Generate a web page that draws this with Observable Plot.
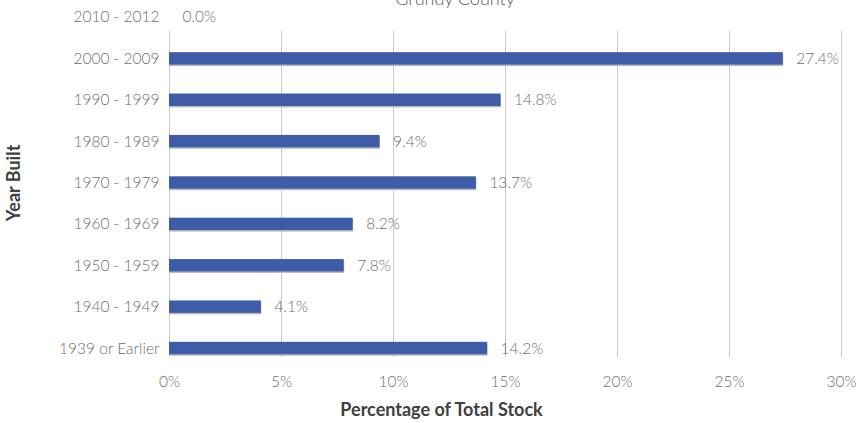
<!DOCTYPE html>
<html>
<head>
<meta charset="utf-8">
<script src="https://cdn.jsdelivr.net/npm/d3@7"></script>
<script src="https://cdn.jsdelivr.net/npm/@observablehq/plot@0.6"></script>
<style>
  html, body { margin: 0; padding: 0; background: #fff; overflow: hidden; }
  #wrap { position: relative; width: 859px; height: 423px; overflow: hidden; font-family: Lato, "Open Sans", sans-serif; }
  #title { position: absolute; left: 0; width: 910px; top: -11px; text-align: center; font-size: 18px; line-height: 18px; color: #595959; font-weight: 300; }
  #chart { position: absolute; left: 0; top: 0; }
</style>
</head>
<body>
<div id="wrap">
  <div id="chart"></div>
  <div id="title">Grundy County</div>
</div>
<script>
const categories = ["2010 - 2012", "2000 - 2009", "1990 - 1999", "1980 - 1989", "1970 - 1979", "1960 - 1969", "1950 - 1959", "1940 - 1949", "1939 or Earlier"];
const values = [0.0, 27.4, 14.8, 9.4, 13.7, 8.2, 7.8, 4.1, 14.2];
const xTicks = [0, 5, 10, 15, 20, 25, 30];

const data = categories.map((c, i) => ({category: c, value: values[i]}));

const plot = Plot.plot({
  width: 859,
  height: 423,
  marginLeft: 169,
  marginRight: 18,
  marginTop: 0,
  marginBottom: 58,
  style: {fontFamily: "Lato, 'Open Sans', sans-serif", fontSize: "15px", color: "#6e6e6e", background: "transparent"},
  x: {domain: [0, 30], ticks: xTicks, label: null},
  y: {domain: categories, paddingInner: 0.7, paddingOuter: 0.26, round: false, label: null},
  marks: [
    Plot.ruleX(xTicks, {x: d => d, stroke: "#c8c8c8", strokeWidth: 1, insetTop: 31, insetBottom: 8}),
    Plot.barX(data, {y: "category", x: "value", fill: "#b9b9b9", dy: 1.5, dx: 0.5}),
    Plot.barX(data, {y: "category", x: "value", fill: "#3e5ca8"}),
    Plot.text(data, {y: "category", x: "value", text: d => d.value.toFixed(1) + "%", textAnchor: "start", dx: 13, fill: "#6e6e6e", fontSize: 15.5, fontWeight: 300}),
    Plot.axisX(xTicks, {tickSize: 0, tickPadding: 10, tickFormat: d => d + "%", fill: "#6e6e6e", fontSize: 15.5, fontWeight: 300, label: null}),
    Plot.axisY(categories, {tickSize: 0, tickPadding: 10, fill: "#6e6e6e", fontSize: 15.5, fontWeight: 300, label: null}),
    Plot.text(["Percentage of Total Stock"], {frameAnchor: "bottom", dy: 50, dx: -64, text: d => d, fontWeight: "bold", fontSize: 18, fill: "#404040"}),
    Plot.text(["Year Built"], {frameAnchor: "left", textAnchor: "middle", dx: -155, rotate: -90, text: d => d, fontWeight: "bold", fontSize: 18, fill: "#404040"})
  ]
});
document.getElementById("chart").appendChild(plot);
</script>
</body>
</html>
